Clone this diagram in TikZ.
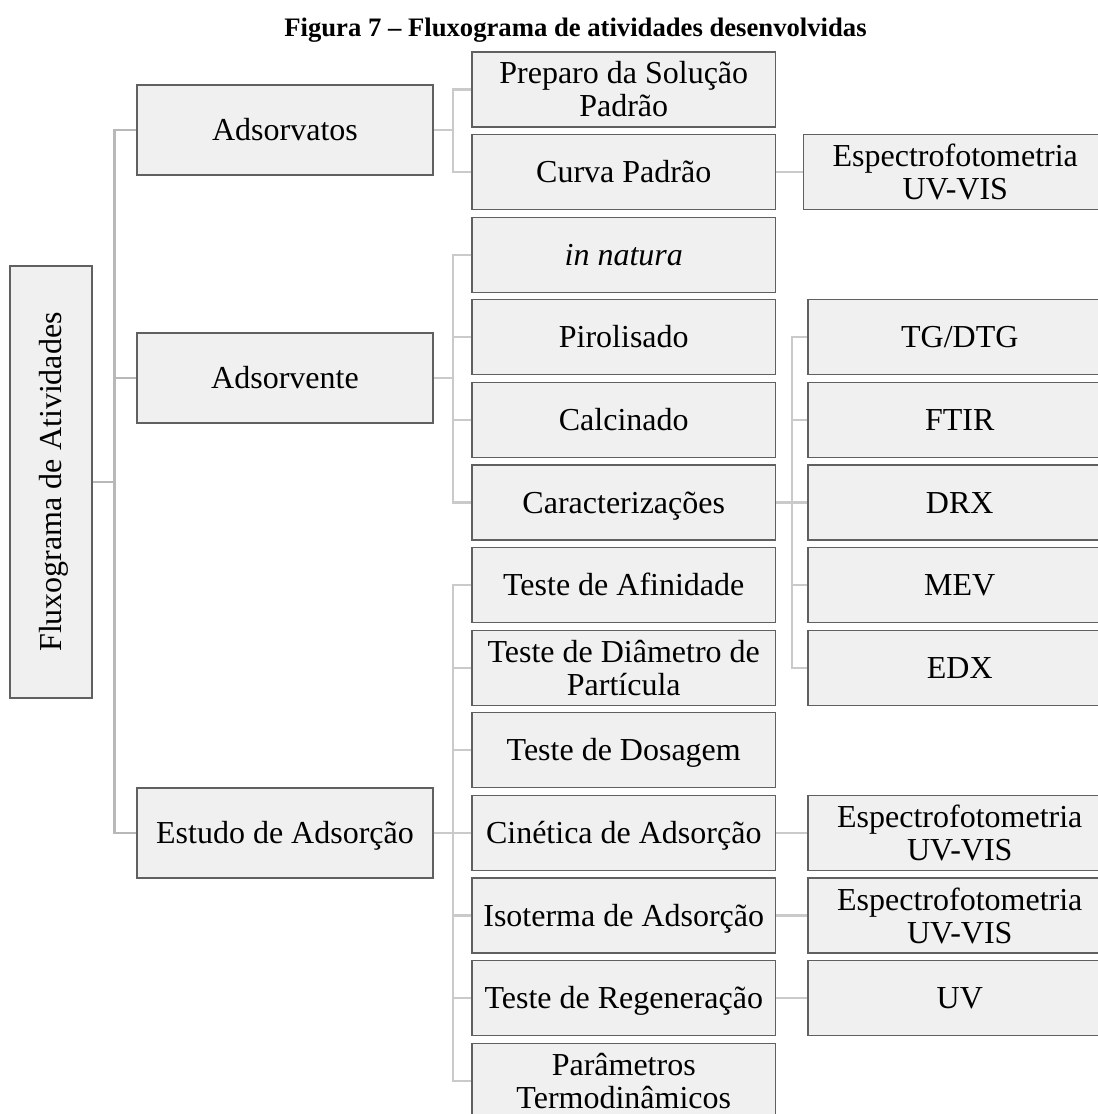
\documentclass[tikz,border=0pt]{standalone}
\usepackage{fontspec}
\setmainfont{Liberation Serif}
\definecolor{boxfill}{HTML}{F0F0F0}
\definecolor{boxline}{HTML}{606060}
\definecolor{linkA}{HTML}{B8B8B8}
\definecolor{linkB}{HTML}{CACACA}
\newcommand{\figtxt}{\fontsize{24}{24.75}\selectfont}
\begin{document}
\begin{tikzpicture}[x=0.75pt,y=-0.75pt,
  box/.style={draw=boxline, fill=boxfill, line width=1pt, inner sep=0pt, align=center, font=\figtxt},
  oneline/.style={text height=15.9pt, text depth=0pt},
  lone/.style={box, oneline, minimum width=296*0.75pt, minimum height=90*0.75pt},
  ltwo/.style={box, minimum width=303.5*0.75pt, minimum height=75*0.75pt},
  lthree/.style={box, minimum width=303.5*0.75pt, minimum height=75*0.75pt},
  linkzero/.style={draw=linkA, line width=2pt},
  link/.style={draw=linkB, line width=1.7pt}]
\useasboundingbox (0,0) rectangle (1097,1114);

\node[anchor=base, font=\fontsize{20}{24}\selectfont\bfseries] (title) at (575.5,36.5) {Figura 7 – Fluxograma de atividades desenvolvidas};

% root
\node[box, oneline, rotate=90, minimum width=432*0.75pt, minimum height=82*0.75pt] (root) at (51,482) {Fluxograma de Atividades};

% level 1
\node[lone] (ads) at (285,130) {Adsorvatos};
\node[lone] (adv) at (285,378) {Adsorvente};
\node[lone] (est) at (285,833) {Estudo de Adsorção};

% level 2
\node[ltwo] (pre) at (623.75,89.5) {Preparo da Solução\\Padrão};
\node[ltwo, oneline] (cur) at (623.75,172.1) {Curva Padrão};
\node[ltwo, oneline] (inn) at (623.75,254.7) {\textit{in natura}};
\node[ltwo, oneline] (pir) at (623.75,337.3) {Pirolisado};
\node[ltwo, oneline] (cal) at (623.75,419.9) {Calcinado};
\node[ltwo, oneline] (car) at (623.75,502.5) {Caracterizações};
\node[ltwo, oneline] (afi) at (623.75,585.1) {Teste de Afinidade};
\node[ltwo] (dia) at (623.75,667.7) {Teste de Diâmetro de\\Partícula};
\node[ltwo, oneline] (dos) at (623.75,750.3) {Teste de Dosagem};
\node[ltwo, oneline] (cin) at (623.75,832.9) {Cinética de Adsorção};
\node[ltwo, oneline] (iso) at (623.75,915.5) {Isoterma de Adsorção};
\node[ltwo, oneline] (reg) at (623.75,998.1) {Teste de Regeneração};
\node[ltwo] (par) at (623.75,1080.7) {Parâmetros\\Termodinâmicos};

% level 3 (right edges lie past the picture's edge, as in the figure)
\node[lthree] (espa) at (955.25,172.1) {Espectrofotometria\\UV-VIS};
\node[lthree, oneline] (tg) at (959.75,337.3) {TG/DTG};
\node[lthree, oneline] (ftir) at (959.75,419.9) {FTIR};
\node[lthree, oneline] (drx) at (959.75,502.5) {DRX};
\node[lthree, oneline] (mev) at (959.75,585.1) {MEV};
\node[lthree, oneline] (edx) at (959.75,667.7) {EDX};
\node[lthree] (espb) at (959.75,832.9) {Espectrofotometria\\UV-VIS};
\node[lthree] (espc) at (959.75,915.5) {Espectrofotometria\\UV-VIS};
\node[lthree, oneline] (uv) at (959.75,998.1) {UV};

% trunk coordinates
\coordinate (t0) at (114.7,0);
\coordinate (t1) at (453,0);
\coordinate (t2) at (792,0);

% root -> level 1
\draw[linkzero] (root.south) -- (t0 |- root.south);
\draw[linkzero] (ads.west) -- (t0 |- ads.west) -- (t0 |- est.west) -- (est.west);
\draw[linkzero] (adv.west) -- (t0 |- adv.west);

% Adsorvatos
\draw[link] (ads.east) -- (t1 |- ads.east);
\draw[link] (pre.west) -- (t1 |- pre.west) -- (t1 |- cur.west) -- (cur.west);

% Adsorvente
\draw[link] (adv.east) -- (t1 |- adv.east);
\draw[link] (inn.west) -- (t1 |- inn.west) -- (t1 |- car.west) -- (car.west);
\draw[link] (pir.west) -- (t1 |- pir.west);
\draw[link] (cal.west) -- (t1 |- cal.west);

% Estudo de Adsorcao
\draw[link] (est.east) -- (t1 |- est.east);
\draw[link] (afi.west) -- (t1 |- afi.west) -- (t1 |- par.west) -- (par.west);
\draw[link] (dia.west) -- (t1 |- dia.west);
\draw[link] (dos.west) -- (t1 |- dos.west);
\draw[link] (cin.west) -- (t1 |- cin.west);
\draw[link] (iso.west) -- (t1 |- iso.west);
\draw[link] (reg.west) -- (t1 |- reg.west);

% Caracterizacoes
\draw[link] (car.east) -- (t2 |- car.east);
\draw[link] (tg.west) -- (t2 |- tg.west) -- (t2 |- edx.west) -- (edx.west);
\draw[link] (ftir.west) -- (t2 |- ftir.west);
\draw[link] (drx.west) -- (t2 |- drx.west);
\draw[link] (mev.west) -- (t2 |- mev.west);

% single links
\draw[link] (cur.east) -- (espa.west);
\draw[link] (cin.east) -- (espb.west);
\draw[link] (iso.east) -- (espc.west);
\draw[link] (reg.east) -- (uv.west);
\end{tikzpicture}
\end{document}
